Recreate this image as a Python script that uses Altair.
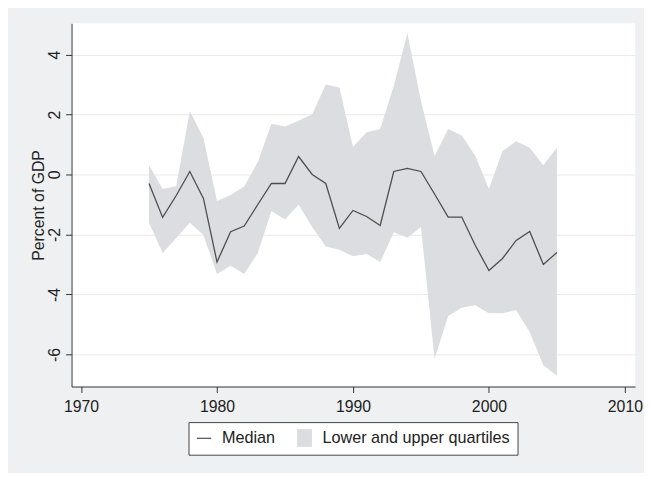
import altair as alt
import pandas as pd

years = list(range(1975, 2006))
median = [-0.30, -1.43, -0.70, 0.10, -0.80, -2.92, -1.91, -1.72, -1.00, -0.30,
          -0.30, 0.60, 0.00, -0.30, -1.80, -1.20, -1.40, -1.70, 0.10, 0.20,
          0.10, -0.65, -1.42, -1.42, -2.37, -3.20, -2.80, -2.20, -1.90, -3.00,
          -2.60]
lower = [-1.61, -2.62, -2.12, -1.61, -2.02, -3.32, -3.04, -3.32, -2.62, -1.22,
         -1.50, -1.01, -1.75, -2.40, -2.51, -2.73, -2.65, -2.92, -1.93, -2.11,
         -1.75, -6.14, -4.72, -4.44, -4.36, -4.63, -4.63, -4.52, -5.26, -6.36,
         -6.71]
upper = [0.31, -0.48, -0.39, 2.12, 1.22, -0.88, -0.68, -0.40, 0.42, 1.69,
         1.60, 1.79, 2.01, 3.00, 2.90, 0.92, 1.41, 1.52, 2.95, 4.71,
         2.45, 0.62, 1.52, 1.30, 0.62, -0.48, 0.78, 1.11, 0.89, 0.31,
         0.89]
legend_labels = ["Median", "Lower and upper quartiles"]
x_ticks = [1970, 1980, 1990, 2000, 2010]
y_ticks = [-6, -4, -2, 0, 2, 4]
y_title = "Percent of GDP"

df = pd.DataFrame({"year": years, "median": median, "lower": lower, "upper": upper})
leg_df = pd.DataFrame({"year": [years[0]] * 2, "median": [median[0]] * 2,
                       "series": legend_labels})

FONT = "Liberation Sans"
W, H = 570.4, 367.6
LINE_C = "#4d4d4d"
AREA_C = "#dcdde0"

x_scale = alt.Scale(domain=[1969.3, 2010.75], nice=False, zero=False)
y_scale = alt.Scale(domain=[-7.07, 5.04], nice=False, zero=False)

x_axis = alt.Axis(values=x_ticks, format="d", title=None, grid=False,
                  tickSize=6, labelPadding=6, domainColor="#333", tickColor="#333",
                  labelFontSize=16, labelColor="#222", labelFont=FONT,
                  labelFlush=False, labelOverlap=False)
y_axis = alt.Axis(values=y_ticks, title=y_title, grid=True, gridColor="#e9e9e9",
                  gridWidth=1, labelAngle=270, labelAlign="center",
                  labelBaseline="alphabetic", labelPadding=6, tickSize=6,
                  labelExpr="'' + datum.value", domainColor="#333", tickColor="#333",
                  labelFontSize=16, labelColor="#222", labelFont=FONT,
                  titleX=-28, titleY=H / 2, titleAngle=270, titleAlign="center",
                  titleBaseline="alphabetic", titleFontSize=16,
                  titleFontWeight="normal", titleColor="#222", titleFont=FONT)

X = lambda: alt.X("year:Q", scale=x_scale, axis=x_axis)

area = alt.Chart(df).mark_area(color=AREA_C, opacity=1).encode(
    x=X(),
    y=alt.Y("lower:Q", scale=y_scale, axis=y_axis),
    y2="upper:Q",
)
line = alt.Chart(df).mark_line(color=LINE_C, strokeWidth=1.3).encode(
    x=X(),
    y=alt.Y("median:Q", scale=y_scale, axis=y_axis),
)

line_path = "M-0.97,-0.08H0.97V0.08H-0.97Z"
sq_path = "M-1,-1.2H1V1.2H-1Z"
leg = alt.Legend(title=None, orient="none", legendX=118.4, legendY=403.6,
                 direction="horizontal", columnPadding=20.7, labelOffset=10,
                 padding=7.5, strokeColor="#444", fillColor="white",
                 labelFontSize=16.4, labelFont=FONT, labelColor="#222", labelLimit=500,
                 symbolSize=225, symbolStrokeWidth=0, cornerRadius=0)
points = alt.Chart(leg_df).mark_point(filled=True, size=225, opacity=1).encode(
    x=X(),
    y=alt.Y("median:Q", scale=y_scale, axis=y_axis),
    color=alt.Color("series:N", scale=alt.Scale(domain=legend_labels,
                                                range=[LINE_C, AREA_C]), legend=leg),
    shape=alt.Shape("series:N", scale=alt.Scale(domain=legend_labels,
                                                range=[line_path, sq_path]), legend=leg),
).transform_filter("false")

chart = alt.layer(area, line, points).properties(
    width=W, height=H,
    padding={"left": 64.3, "top": 12.7, "right": 9, "bottom": 85},
    autosize=alt.AutoSizeParams(type="none"),
    background="#eff0f2",
).configure_view(fill="white", strokeWidth=0)

chart.save("out.html", embed_options={"renderer": "svg", "actions": False})
